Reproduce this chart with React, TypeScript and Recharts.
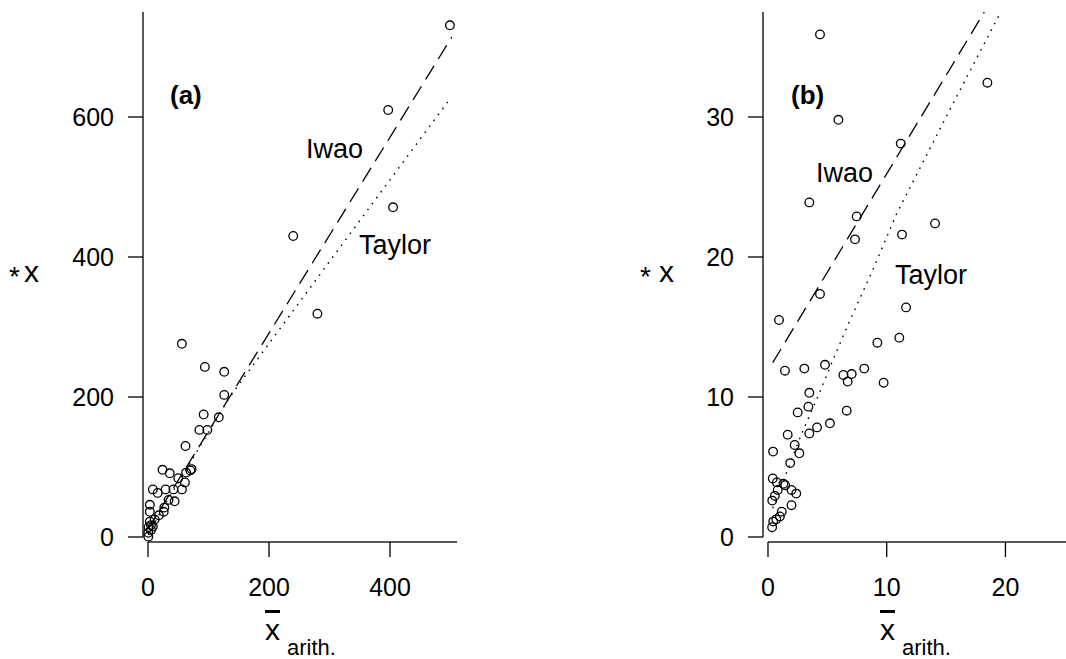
import React from "react";
import { ScatterChart, Scatter, XAxis, YAxis, ReferenceLine } from "recharts";

// panel (a): x* against arithmetic mean, large range
const xTicksA = [0, 200, 400];
const yTicksA = [0, 200, 400, 600];
const pointsA = [
  { x: 499, y: 731 }, { x: 397, y: 610 }, { x: 405, y: 471 }, { x: 240, y: 430 },
  { x: 280, y: 319 }, { x: 56, y: 276 }, { x: 94, y: 243 }, { x: 126, y: 236 },
  { x: 126, y: 203 }, { x: 92, y: 175 }, { x: 117, y: 171 }, { x: 85, y: 153 },
  { x: 98, y: 153 }, { x: 62, y: 130 }, { x: 24, y: 96 }, { x: 36, y: 91 },
  { x: 50, y: 84 }, { x: 63, y: 92 }, { x: 70, y: 95 }, { x: 72, y: 97 },
  { x: 61, y: 78 }, { x: 8, y: 68 }, { x: 16, y: 63 }, { x: 29, y: 68 },
  { x: 42, y: 68 }, { x: 56, y: 68 }, { x: 34, y: 53 }, { x: 44, y: 51 },
  { x: 3, y: 46 }, { x: 27, y: 42 }, { x: 26, y: 36 }, { x: 3, y: 36 },
  { x: 18, y: 31 }, { x: 11, y: 25 }, { x: 3, y: 22 }, { x: 8, y: 15 },
  { x: 1, y: 14 }, { x: 5, y: 10 }, { x: 0.5, y: 0.5 }, { x: 0.5, y: 6 },
  { x: 5, y: 17 },
];
const iwaoA = [{ x: 0.5, y: 11.8 }, { x: 502, y: 714 }];
const taylorA = [
  { x: 1, y: 3 }, { x: 20, y: 35 }, { x: 64, y: 98 }, { x: 135, y: 200 },
  { x: 215, y: 294 }, { x: 350, y: 452 }, { x: 500, y: 627 },
];

// panel (b): zoom on the small means
const xTicksB = [0, 10, 20];
const yTicksB = [0, 10, 20, 30];
const pointsB = [
  { x: 4.38, y: 35.9 }, { x: 18.48, y: 32.45 }, { x: 5.93, y: 29.8 }, { x: 11.18, y: 28.1 },
  { x: 3.48, y: 23.9 }, { x: 7.47, y: 22.9 }, { x: 7.33, y: 21.26 }, { x: 11.29, y: 21.6 },
  { x: 14.07, y: 22.4 }, { x: 4.38, y: 17.36 }, { x: 11.63, y: 16.4 }, { x: 0.93, y: 15.5 },
  { x: 9.21, y: 13.88 }, { x: 11.06, y: 14.24 }, { x: 1.43, y: 11.88 }, { x: 3.06, y: 12.03 },
  { x: 4.8, y: 12.3 }, { x: 6.35, y: 11.57 }, { x: 7.05, y: 11.64 }, { x: 6.71, y: 11.1 },
  { x: 8.11, y: 12.03 }, { x: 9.74, y: 11.02 }, { x: 3.48, y: 10.3 }, { x: 3.4, y: 9.31 },
  { x: 2.5, y: 8.9 }, { x: 6.63, y: 9.02 }, { x: 5.22, y: 8.12 }, { x: 4.13, y: 7.83 },
  { x: 3.48, y: 7.4 }, { x: 1.66, y: 7.31 }, { x: 2.25, y: 6.57 }, { x: 2.64, y: 5.98 },
  { x: 0.43, y: 6.1 }, { x: 1.87, y: 5.28 }, { x: 0.4, y: 4.18 }, { x: 0.75, y: 3.9 },
  { x: 1.3, y: 3.8 }, { x: 1.45, y: 3.7 }, { x: 0.82, y: 3.36 }, { x: 1.98, y: 3.36 },
  { x: 2.38, y: 3.1 }, { x: 0.58, y: 2.94 }, { x: 0.36, y: 2.6 }, { x: 1.98, y: 2.27 },
  { x: 1.16, y: 1.81 }, { x: 1.0, y: 1.47 }, { x: 0.7, y: 1.26 }, { x: 0.44, y: 1.1 },
  { x: 0.35, y: 0.7 },
];
const iwaoB = [{ x: 0.4, y: 12.45 }, { x: 18.22, y: 37.5 }];
const taylorB = [
  { x: 0.4, y: 2.05 }, { x: 1.43, y: 4.3 }, { x: 2.84, y: 7.4 }, { x: 4.24, y: 10.1 },
  { x: 5.5, y: 12.7 }, { x: 6.91, y: 15.5 }, { x: 8.74, y: 18.9 }, { x: 10.84, y: 23.1 },
  { x: 15, y: 30.0 }, { x: 19.6, y: 37.5 },
];

const FONT = '"Liberation Sans", Arial, Helvetica, sans-serif';

const OpenCircle = (props: any) => (
  <circle cx={props.cx} cy={props.cy} r={4.3} fill="none" stroke="#000" strokeWidth={1.3} />
);
const NoShape = () => <g />;

function Panel({ left, width, marginLeft, xDomain, yDomain, xTicks, yTicks, points, iwao, taylor }: any) {
  return (
    <div style={{ position: "absolute", left, top: 0 }}>
      <ScatterChart
        width={width}
        height={659}
        margin={{ top: 12, right: 0, bottom: 57, left: marginLeft }}
      >
        <XAxis
          type="number"
          dataKey="x"
          domain={xDomain}
          ticks={xTicks}
          interval={0}
          allowDataOverflow
          axisLine={false}
          tickSize={15}
          tickMargin={21}
          height={60}
          tickLine={{ stroke: "#000", strokeWidth: 1.3 }}
          tick={{ fontSize: 25, fill: "#000", fontFamily: FONT }}
        />
        <YAxis
          type="number"
          dataKey="y"
          domain={yDomain}
          ticks={yTicks}
          interval={0}
          allowDataOverflow
          axisLine={false}
          tickSize={15}
          tickMargin={14}
          width={60}
          tickLine={{ stroke: "#000", strokeWidth: 1.3 }}
          tick={{ fontSize: 25, fill: "#000", fontFamily: FONT }}
        />
        <ReferenceLine
          segment={[{ x: xDomain[0], y: 0 }, { x: xDomain[0], y: yDomain[1] }]}
          stroke="#222"
          strokeWidth={1.5}
          ifOverflow="visible"
        />
        <ReferenceLine
          segment={[{ x: 0, y: yDomain[0] }, { x: xDomain[1], y: yDomain[0] }]}
          stroke="#222"
          strokeWidth={1.5}
          ifOverflow="visible"
        />
        <Scatter
          data={iwao}
          fill="#000"
          line={{ stroke: "#000", strokeWidth: 1.3, strokeDasharray: "16 8" }}
          shape={NoShape}
          isAnimationActive={false}
        />
        <Scatter
          data={taylor}
          fill="#000"
          line={{ stroke: "#000", strokeWidth: 1.4, strokeDasharray: "1.6 5.8" }}
          shape={NoShape}
          isAnimationActive={false}
        />
        <Scatter data={points} fill="none" shape={OpenCircle} isAnimationActive={false} />
      </ScatterChart>
    </div>
  );
}

export default function App() {
  const txt = { fontFamily: FONT, fill: "#000" };
  return (
    <div
      style={{
        position: "absolute",
        left: 0,
        top: 0,
        width: 1066,
        height: 659,
        background: "#fff",
        fontFamily: FONT,
        overflow: "hidden",
      }}
    >
      <Panel
        left={0}
        width={457}
        marginLeft={83}
        xDomain={[-8.26, 510.7]}
        yDomain={[-7.14, 750]}
        xTicks={xTicksA}
        yTicks={yTicksA}
        points={pointsA}
        iwao={iwaoA}
        taylor={taylorA}
      />
      <Panel
        left={520}
        width={546}
        marginLeft={183}
        xDomain={[-0.42, 25.1]}
        yDomain={[-0.357, 37.5]}
        xTicks={xTicksB}
        yTicks={yTicksB}
        points={pointsB}
        iwao={iwaoB}
        taylor={taylorB}
      />
      <svg
        width={1066}
        height={659}
        style={{ position: "absolute", left: 0, top: 0, pointerEvents: "none" }}
      >
        {/* panel (a) annotations */}
        <text x={170} y={104} fontSize={26} fontWeight="bold" {...txt}>(a)</text>
        <text x={306} y={158} fontSize={27} {...txt}>Iwao</text>
        <text x={359} y={254} fontSize={27} {...txt}>Taylor</text>
        <text x={9} y={286} fontSize={28} {...txt}>*</text>
        <text x={24} y={282} fontSize={30} {...txt}>x</text>
        <text x={265} y={640} fontSize={30} textDecoration="overline" {...txt}>x</text>
        <text x={287} y={655} fontSize={22} {...txt}>arith.</text>

        {/* panel (b) annotations */}
        <text x={791} y={104} fontSize={26} fontWeight="bold" {...txt}>(b)</text>
        <text x={816} y={182} fontSize={27} {...txt}>Iwao</text>
        <text x={895} y={284} fontSize={27} {...txt}>Taylor</text>
        <text x={640} y={286} fontSize={28} {...txt}>*</text>
        <text x={659} y={282} fontSize={30} {...txt}>x</text>
        <text x={880} y={640} fontSize={30} textDecoration="overline" {...txt}>x</text>
        <text x={902} y={655} fontSize={22} {...txt}>arith.</text>
      </svg>
    </div>
  );
}
